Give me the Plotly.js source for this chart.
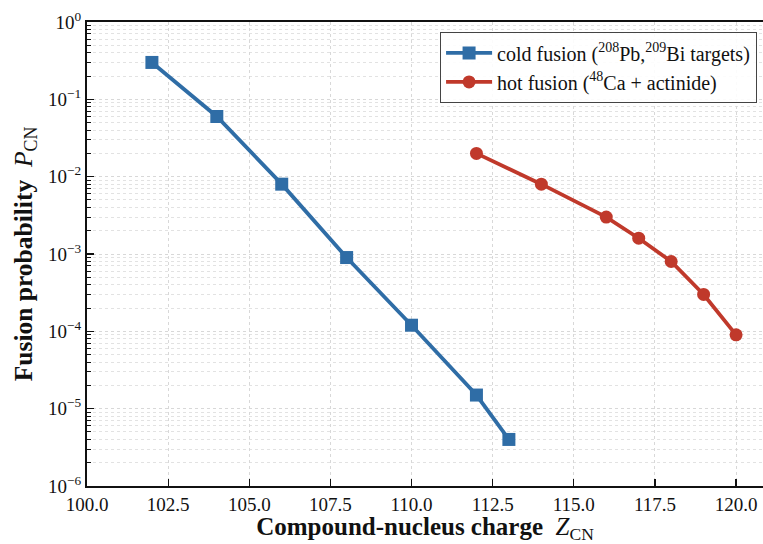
<!DOCTYPE html>
<html><head><meta charset="utf-8">
<script src="https://cdn.plot.ly/plotly-3.0.1.min.js"></script>
<style>body{margin:0;background:#fff}</style>
</head><body>
<div id="plot" style="width:763px;height:544px"></div>
<script>
const coldZ = [102, 104, 106, 108, 110, 112, 113];
const coldP = [0.3, 0.06, 0.008, 0.0009, 0.00012, 1.5e-5, 4e-6];
const hotZ = [112, 114, 116, 117, 118, 119, 120];
const hotP = [0.02, 0.008, 0.003, 0.0016, 0.0008, 0.0003, 9e-5];
const yTickVals = [1e-6, 1e-5, 1e-4, 1e-3, 1e-2, 1e-1, 1];
const yTickText = ['10<sup>−6</sup>','10<sup>−5</sup>','10<sup>−4</sup>','10<sup>−3</sup>','10<sup>−2</sup>','10<sup>−1</sup>','10<sup>0</sup>'];
const xTickVals = [100, 102.5, 105, 107.5, 110, 112.5, 115, 117.5, 120];
const xTickText = ['100.0','102.5','105.0','107.5','110.0','112.5','115.0','117.5','120.0'];

const serif = "'Liberation Serif', 'DejaVu Serif', serif";
const traces = [
  {x: coldZ, y: coldP, mode: 'lines+markers', name: 'cold fusion (<sup>208</sup>Pb,<sup>209</sup>Bi targets)',
   line: {color: '#2f6da6', width: 3.8}, marker: {symbol: 'square', size: 13, color: '#2f6da6'}},
  {x: hotZ, y: hotP, mode: 'lines+markers', name: 'hot fusion (<sup>48</sup>Ca + actinide)',
   line: {color: '#c0392b', width: 3.8}, marker: {symbol: 'circle', size: 13, color: '#c0392b'}}
];
const layout = {
  width: 763, height: 544,
  margin: {l: 87, r: 0, t: 22, b: 58},
  paper_bgcolor: '#fff', plot_bgcolor: '#fff',
  font: {family: serif, size: 19, color: '#111'},
  showlegend: true,
  legend: {x: 0.522, y: 0.978, xanchor: 'left', yanchor: 'top', bgcolor: 'rgba(255,255,255,0.9)',
           bordercolor: '#444', borderwidth: 1.2, font: {family: serif, size: 20, color: '#111'},
           itemwidth: 46},
  xaxis: {range: [100, 120.83], tickvals: xTickVals, ticktext: xTickText,
          ticks: 'inside', ticklen: 7, tickwidth: 1.2, tickcolor: '#111',
          showline: true, linecolor: '#111', linewidth: 2, mirror: true,
          showgrid: true, gridcolor: '#d8d8d8', griddash: 'dot', gridwidth: 1,
          zeroline: false, tickfont: {family: serif, size: 19},
          title: {text: '<b>Compound-nucleus charge</b>  <i>Z</i><sub>CN</sub>', font: {family: serif, size: 25}, standoff: 9}},
  yaxis: {type: 'log', range: [-6, 0], tickvals: yTickVals, ticktext: yTickText,
          ticks: 'inside', ticklen: 7, tickwidth: 1.2, tickcolor: '#111',
          showline: true, linecolor: '#111', linewidth: 2, mirror: true,
          showgrid: true, gridcolor: '#d8d8d8', griddash: 'dot', gridwidth: 1,
          zeroline: false, tickfont: {family: serif, size: 19},
          minor: {ticks: 'inside', ticklen: 4, tickcolor: '#111', tickwidth: 1, dtick: 'D1',
                  showgrid: true, gridcolor: '#e2e2e2', griddash: 'dot', gridwidth: 1},
          title: {text: '<b>Fusion probability</b>  <i>P</i><sub>CN</sub>', font: {family: serif, size: 25.5}, standoff: 8}}
};
Plotly.newPlot('plot', traces, layout, {displayModeBar: false, staticPlot: true});
</script>
</body></html>
